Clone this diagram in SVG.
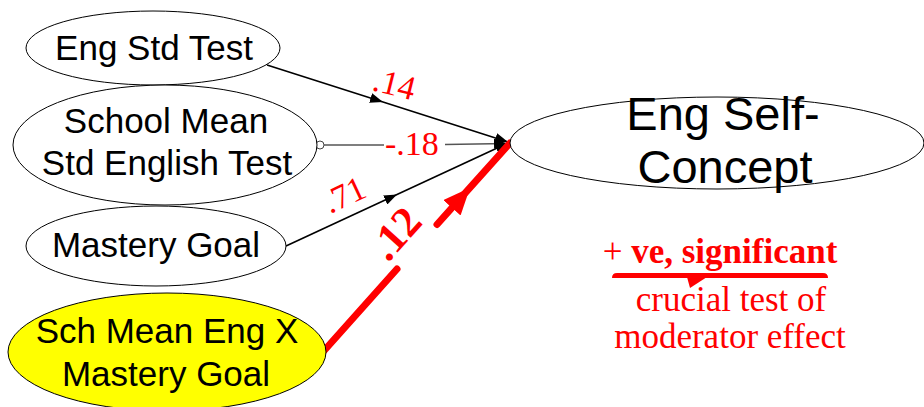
<svg xmlns="http://www.w3.org/2000/svg" width="924" height="407" viewBox="0 0 924 407">
<style>
.node{fill:#fff;stroke:#000;stroke-width:1}
.lbl{font-family:"Liberation Sans",Arial,sans-serif;font-size:35px;fill:#000;text-anchor:middle}
.big{font-family:"Liberation Sans",Arial,sans-serif;font-size:47px;fill:#000;text-anchor:middle}
.coef{font-family:"Liberation Serif","Times New Roman",serif;font-size:34px;fill:#f00}
.note{font-family:"Liberation Serif","Times New Roman",serif;font-size:35px;fill:#f00;text-anchor:middle}
.path{fill:none;stroke:#000;stroke-width:1.6}
</style>
<defs>
<marker id="ah" markerUnits="userSpaceOnUse" markerWidth="13" markerHeight="10" refX="13" refY="5" orient="auto">
<path d="M0,0 L13,5 L0,10 z" fill="#000"/>
</marker>
<marker id="ahr" markerUnits="userSpaceOnUse" markerWidth="27" markerHeight="23" refX="27" refY="11.5" orient="auto">
<path d="M0,0 L27,11.5 L0,23 z" fill="#f00"/>
</marker>
</defs>
<g id="connectors">
<path class="path" d="M267,65 L383,102 L508,142" marker-mid="url(#ah)" marker-end="url(#ah)"/>
<circle cx="320" cy="145" r="4" fill="#fff" stroke="#444" stroke-width="1"/>
<path d="M324,145 L384,145" fill="none" stroke="#555" stroke-width="1.5"/>
<path d="M445,144.5 L507,143.5" fill="none" stroke="#555" stroke-width="1.5" marker-end="url(#ah)"/>
<path class="path" d="M286,246 L397,194.5 L508,143" marker-mid="url(#ah)" marker-end="url(#ah)"/>
<path d="M322,353 L397,269" fill="none" stroke="#f00" stroke-width="7" stroke-linecap="round"/>
<path d="M437,224.5 L470,187.7 L510,143" fill="none" stroke="#f00" stroke-width="7" stroke-linecap="round" marker-mid="url(#ahr)"/>
<text class="coef" transform="translate(371,90) rotate(14)">.14</text>
<text class="coef" x="385" y="155">-.18</text>
<text class="coef" transform="translate(330,214) rotate(-25)">.71</text>
<text class="coef" transform="translate(388,263) rotate(-48)" style="font-size:43px;font-weight:bold">.12</text>
</g>
<g id="eng-std-test">
<ellipse class="node" cx="153" cy="48" rx="127" ry="37"/>
<text class="lbl" x="154" y="60">Eng Std Test</text>
</g>
<g id="school-mean">
<ellipse class="node" cx="165" cy="145" rx="152" ry="60"/>
<text class="lbl" x="166" y="133">School Mean</text>
<text class="lbl" x="167" y="175">Std English Test</text>
</g>
<g id="mastery-goal">
<ellipse class="node" cx="156" cy="246" rx="130" ry="40"/>
<text class="lbl" x="156" y="257">Mastery Goal</text>
</g>
<g id="interaction">
<ellipse cx="167" cy="352" rx="159" ry="59" fill="#ff0" stroke="#000" stroke-width="1"/>
<text class="lbl" x="167" y="343">Sch Mean Eng X</text>
<text class="lbl" x="166" y="386">Mastery Goal</text>
</g>
<g id="eng-self-concept">
<ellipse class="node" cx="717" cy="143" rx="207" ry="46"/>
<text class="big" x="723" y="130">Eng Self-</text>
<text class="big" x="725" y="183">Concept</text>
</g>
<g id="annotation">
<text class="note" x="720" y="263" style="font-weight:bold"><tspan style="font-weight:normal">+</tspan> ve, significant</text>
<path d="M612,278 Q612,273 617,273 L823,273 Q828,273 828,278 Z" fill="#f00"/>
<path d="M687,277 L690,288 L707,277 Z" fill="#f00"/>
<text class="note" x="731" y="311">crucial test of</text>
<text class="note" x="730" y="348">moderator effect</text>
</g>
</svg>
